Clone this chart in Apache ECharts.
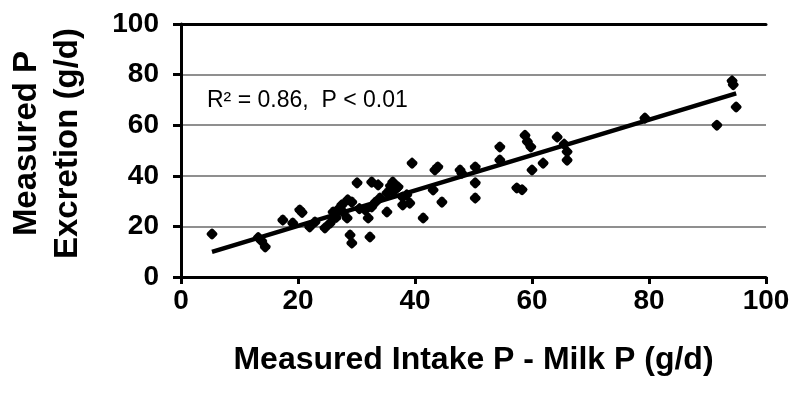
<!DOCTYPE html>
<html>
<head>
<meta charset="utf-8">
<script src="https://cdn.jsdelivr.net/npm/echarts@6/dist/echarts.min.js"></script>
<style>
  html, body { margin: 0; padding: 0; background: #fff; }
  #chart { width: 808px; height: 396px; }
</style>
</head>
<body>
<div id="chart"></div>
<script>
// measured intake P - milk P (g/d)
const intakeP = [
  5.3, 13.2, 13.8, 14.4, 17.4, 19.1, 20.3, 20.7, 22.0, 22.9,
  24.6, 25.5, 26.0, 26.5, 27.5, 27.7, 28.4, 28.9, 29.2, 29.2,
  30.1, 30.5, 31.5, 32.0, 32.3, 32.6, 32.6, 33.7, 34.0, 35.2,
  35.2, 36.2, 36.2, 36.9, 37.1, 37.9, 37.9, 39.1, 39.5, 41.4,
  43.1, 43.4, 43.9, 44.6, 47.7, 48.0, 50.3, 50.3, 50.3, 54.5,
  54.5, 57.4, 58.3, 58.8, 59.2, 59.8, 60.0, 61.9, 64.3, 65.5,
  66.0, 66.0, 79.3, 91.6, 94.2, 94.4, 94.9,
  27.0, 28.5, 33.2, 35.8, 38.6
];
// measured P excretion (g/d)
const excretionP = [
  17.0, 15.6, 14.2, 11.9, 22.5, 21.3, 26.5, 25.5, 19.8, 21.7,
  19.4, 21.3, 25.7, 23.5, 28.5, 25.7, 23.3, 16.6, 13.4, 29.6,
  37.2, 27.0, 26.5, 23.3, 15.8, 37.5, 27.7, 36.4, 31.2, 33.2,
  25.7, 37.5, 33.6, 35.2, 35.6, 31.6, 28.5, 29.2, 45.0, 23.3,
  34.4, 42.3, 43.5, 29.6, 42.3, 41.0, 43.5, 37.2, 31.2, 51.4,
  46.2, 35.2, 34.5, 56.0, 53.5, 51.4, 42.3, 45.0, 55.3, 52.5,
  49.5, 46.2, 62.8, 60.0, 77.5, 76.0, 67.2,
  27.0, 30.5, 29.5, 36.0, 32.5
];
// regression line ends
const fitX = [5.3, 94.9];
const fitY = [9.9, 72.6];
const annotation = 'R² = 0.86,  P < 0.01';

const points = intakeP.map((x, i) => [x, excretionP[i]]);
const fitLine = fitX.map((x, i) => [x, fitY[i]]);

const chart = echarts.init(document.getElementById('chart'));
chart.setOption({
  animation: false,
  textStyle: { fontFamily: 'Liberation Sans, Arial, sans-serif', color: '#000' },
  grid: { left: 181, right: 42, top: 24, bottom: 119, containLabel: false, outerBoundsMode: 'none' },
  xAxis: [{
    type: 'value',
    min: 0, max: 100, interval: 20,
    name: 'Measured Intake P - Milk P (g/d)',
    nameLocation: 'middle',
    nameGap: 67,
    nameTextStyle: { fontSize: 32, fontWeight: 'bold', color: '#000' },
    axisLine: { show: true, lineStyle: { color: '#000', width: 3 } },
    axisTick: { show: true, inside: false, length: 7, lineStyle: { color: '#000', width: 3 } },
    axisLabel: { fontSize: 28, fontWeight: 'bold', color: '#000', margin: 10 },
    splitLine: { show: false }
  }, {
    type: 'value',
    position: 'top',
    min: 0, max: 100,
    axisLine: { show: true, lineStyle: { color: '#000', width: 3 } },
    axisTick: { show: false },
    axisLabel: { show: false },
    splitLine: { show: false }
  }],
  yAxis: {
    type: 'value',
    min: 0, max: 100, interval: 20,
    name: 'Measured P\nExcretion (g/d)',
    nameLocation: 'middle',
    nameGap: 93,
    nameRotate: 90,
    nameTextStyle: { fontSize: 33, fontWeight: 'bold', color: '#000', lineHeight: 41, padding: [0, 0, 0, 14] },
    axisLine: { show: true, lineStyle: { color: '#000', width: 3 } },
    axisTick: { show: true, inside: false, length: 8, lineStyle: { color: '#000', width: 3 } },
    axisLabel: { fontSize: 28, fontWeight: 'bold', color: '#000', margin: 22 },
    splitLine: { show: true, lineStyle: { color: '#6a6a6a', width: 1.5 } }
  },
  graphic: [{
    type: 'text',
    left: 207,
    top: 89,
    style: { text: annotation, fontSize: 23, fill: '#000', fontFamily: 'Liberation Sans, Arial, sans-serif' }
  }],
  series: [{
    type: 'scatter',
    data: points,
    symbol: 'roundRect',
    symbolRotate: 45,
    symbolSize: 9,
    itemStyle: { color: '#000', opacity: 1 },
    z: 3
  }, {
    type: 'line',
    data: fitLine,
    symbol: 'none',
    lineStyle: { color: '#000', width: 4.5 },
    z: 4
  }]
});
</script>
</body>
</html>
